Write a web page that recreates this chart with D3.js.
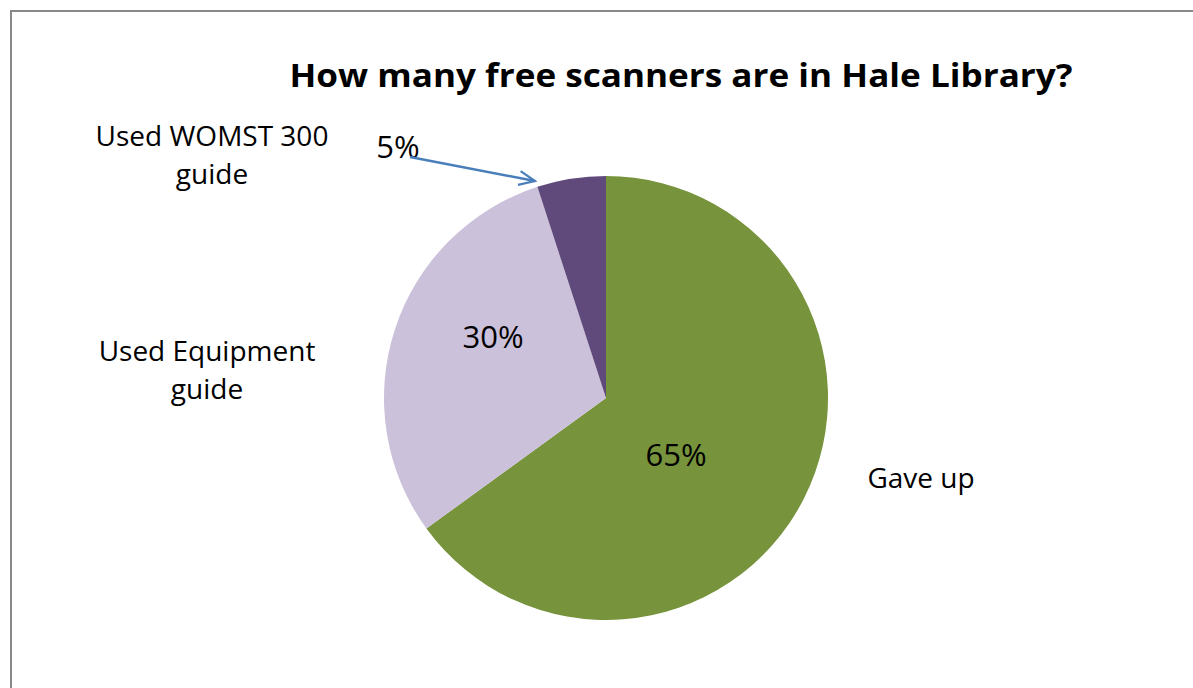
<!DOCTYPE html>
<html><head><meta charset="utf-8">
<script src="https://cdn.jsdelivr.net/npm/d3@7"></script>
<style>body{margin:0;background:#fff}svg{display:block}</style>
</head><body>
<svg id="c" width="1193" height="688"></svg>
<script>
const categories = ["Gave up", "Used Equipment guide", "Used WOMST 300 guide"];
const values = [65, 30, 5];
const valueLabels = ["65%", "30%", "5%"];
const colors = ["#77933C", "#CCC1DA", "#604A7B"];
const title = "How many free scanners are in Hale Library?";

const svg = d3.select("#c");
const font = "'Open Sans', Lato, sans-serif";
svg.append("rect").attr("x", 11).attr("y", 11).attr("width", 1300).attr("height", 800)
  .attr("fill", "#fff").attr("stroke", "#888").attr("stroke-width", 2);

svg.append("text").attr("x", 681).attr("y", 87).attr("text-anchor", "middle")
  .attr("font-family", font).attr("font-weight", "bold").attr("font-size", 32)
  .attr("textLength", 783).attr("lengthAdjust", "spacingAndGlyphs")
  .text(title);

const cx = 606, cy = 398, r = 222;
const pie = d3.pie().sort(null).value(d => d)(values);
const arc = d3.arc().innerRadius(0).outerRadius(r);
const g = svg.append("g").attr("transform", `translate(${cx},${cy})`);
g.selectAll("path").data(pie).join("path").attr("d", arc).attr("fill", (d, i) => colors[i]);

// value labels
const valPos = [[676, 466], [493, 348], [398, 158]];
svg.selectAll("text.val").data(valueLabels).join("text").attr("class", "val")
  .attr("x", (d, i) => valPos[i][0]).attr("y", (d, i) => valPos[i][1])
  .attr("text-anchor", "middle").attr("font-family", font).attr("font-size", 31).attr("fill", "#000")
  .text(d => d);

// category labels
const catLines = [["Gave up"], ["Used Equipment", "guide"], ["Used WOMST 300", "guide"]];
const catPos = [[921, 488], [207, 361], [212, 146]];
catLines.forEach((lines, i) => {
  const t = svg.append("text").attr("text-anchor", "middle").attr("font-family", font)
    .attr("font-size", 28).attr("fill", "#000");
  lines.forEach((l, j) => t.append("tspan").attr("x", catPos[i][0]).attr("y", catPos[i][1] + j * 38).text(l));
});

// leader arrow for 5%
svg.append("defs").append("marker").attr("id", "arr").attr("viewBox", "0 0 20 20")
  .attr("refX", 18).attr("refY", 10).attr("markerWidth", 20).attr("markerHeight", 20)
  .attr("markerUnits", "userSpaceOnUse").attr("orient", "auto")
  .append("path").attr("d", "M2,3 L18,10 L2,17").attr("fill", "none").attr("stroke", "#4A7EBB").attr("stroke-width", 2.2);
svg.append("line").attr("x1", 410).attr("y1", 157).attr("x2", 535).attr("y2", 181)
  .attr("stroke", "#4A7EBB").attr("stroke-width", 2.5).attr("marker-end", "url(#arr)");
</script>
</body></html>
